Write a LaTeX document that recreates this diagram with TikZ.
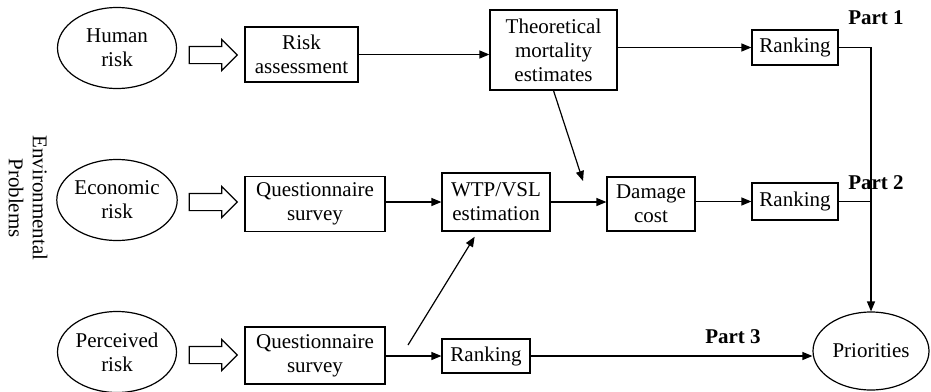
\documentclass[tikz,border=0pt]{standalone}
\usepackage{fontspec}
\setmainfont{Liberation Serif}
\usetikzlibrary{shapes, arrows.meta, positioning}

\begin{document}
\begin{tikzpicture}[x=0.5pt, y=-0.5pt, line width=0.6pt,
    font=\fontsize{10.5}{12}\selectfont,
    riskell/.style={draw, ellipse, inner sep=0pt, minimum width=59.5pt, minimum height=40.5pt, align=center},
    stagebox/.style={draw, rectangle, inner sep=0pt, align=center},
    fatarrow/.style={draw, single arrow, inner sep=4pt, minimum height=24pt, single arrow head extend=3.5pt},
    arr/.style={-{Triangle[length=5pt,width=4pt]}},
    partlbl/.style={font=\fontsize{10.5}{12}\selectfont\bfseries}]
        \useasboundingbox (0,0) rectangle (931,391);

        \node[riskell] (hum) at (117,48) {Human\\risk};
        \node[riskell] (eco) at (117,200) {Economic\\risk};
        \node[riskell] (per) at (117,352) {Perceived\\risk};

        \node[fatarrow] (fa1) at (209,55) {};
        \node[fatarrow] (fa2) at (209,202) {};
        \node[fatarrow] (fa3) at (209,355) {};

        \node[stagebox, minimum width=56.5pt, minimum height=27.5pt] (ra) at (301.5,54.5) {Risk\\assessment};
        \node[stagebox, minimum width=63.5pt, minimum height=40pt] (tme) at (553.5,50) {Theoretical\\mortality\\estimates};
        \node[stagebox, minimum width=43pt, minimum height=17.5pt] (rk1) at (795,47.5) {Ranking};
        \node[stagebox, minimum width=70pt, minimum height=27.5pt] (qs1) at (315,204) {Questionnaire\\survey};
        \node[stagebox, minimum width=54pt, minimum height=29pt] (wtp) at (496,202) {WTP/VSL\\estimation};
        \node[stagebox, minimum width=44pt, minimum height=27pt] (dc) at (651,204) {Damage\\cost};
        \node[stagebox, minimum width=43pt, minimum height=18.5pt] (rk2) at (795,201.5) {Ranking};
        \node[stagebox, minimum width=70pt, minimum height=28.5pt] (qs2) at (315,355.5) {Questionnaire\\survey};
        \node[stagebox, minimum width=44pt, minimum height=17pt] (rk3) at (486,356) {Ranking};
        \node[riskell, minimum width=58pt, minimum height=39pt] (pri) at (871,351) {Priorities};

        \node[partlbl] (p1) at (876,18) {Part 1};
        \node[partlbl] (p2) at (876,183) {Part 2};
        \node[partlbl] (p3) at (733,337) {Part 3};
        \node[rotate=-90, align=center] (env) at (28,198) {Environmental\\Problems};

        \coordinate (td) at (583,181);
        \coordinate (ps) at (408,345);

        \draw [arr] (ra.east) -- (ra.east -| tme.west);
        \draw [arr] (tme.east |- rk1) -- (rk1.west);
        \draw [arr] (tme.south) -- (td);
        \draw [arr] (qs1.east |- wtp) -- (wtp.west);
        \draw [arr] (wtp.east) -- (dc.west |- wtp.east);
        \draw [arr] (dc.east |- rk2) -- (rk2.west);
        \draw [arr] (rk1.east) -| (pri.north);
        \draw (rk2.east) -- (rk2.east -| pri.north);
        \draw [arr] (qs2.east |- rk3) -- (rk3.west);
        \draw [arr, shorten >=3pt] (ps) -- (wtp);
        \draw [arr] (rk3.east) -- (rk3.east -| pri.west);
\end{tikzpicture}
\end{document}
